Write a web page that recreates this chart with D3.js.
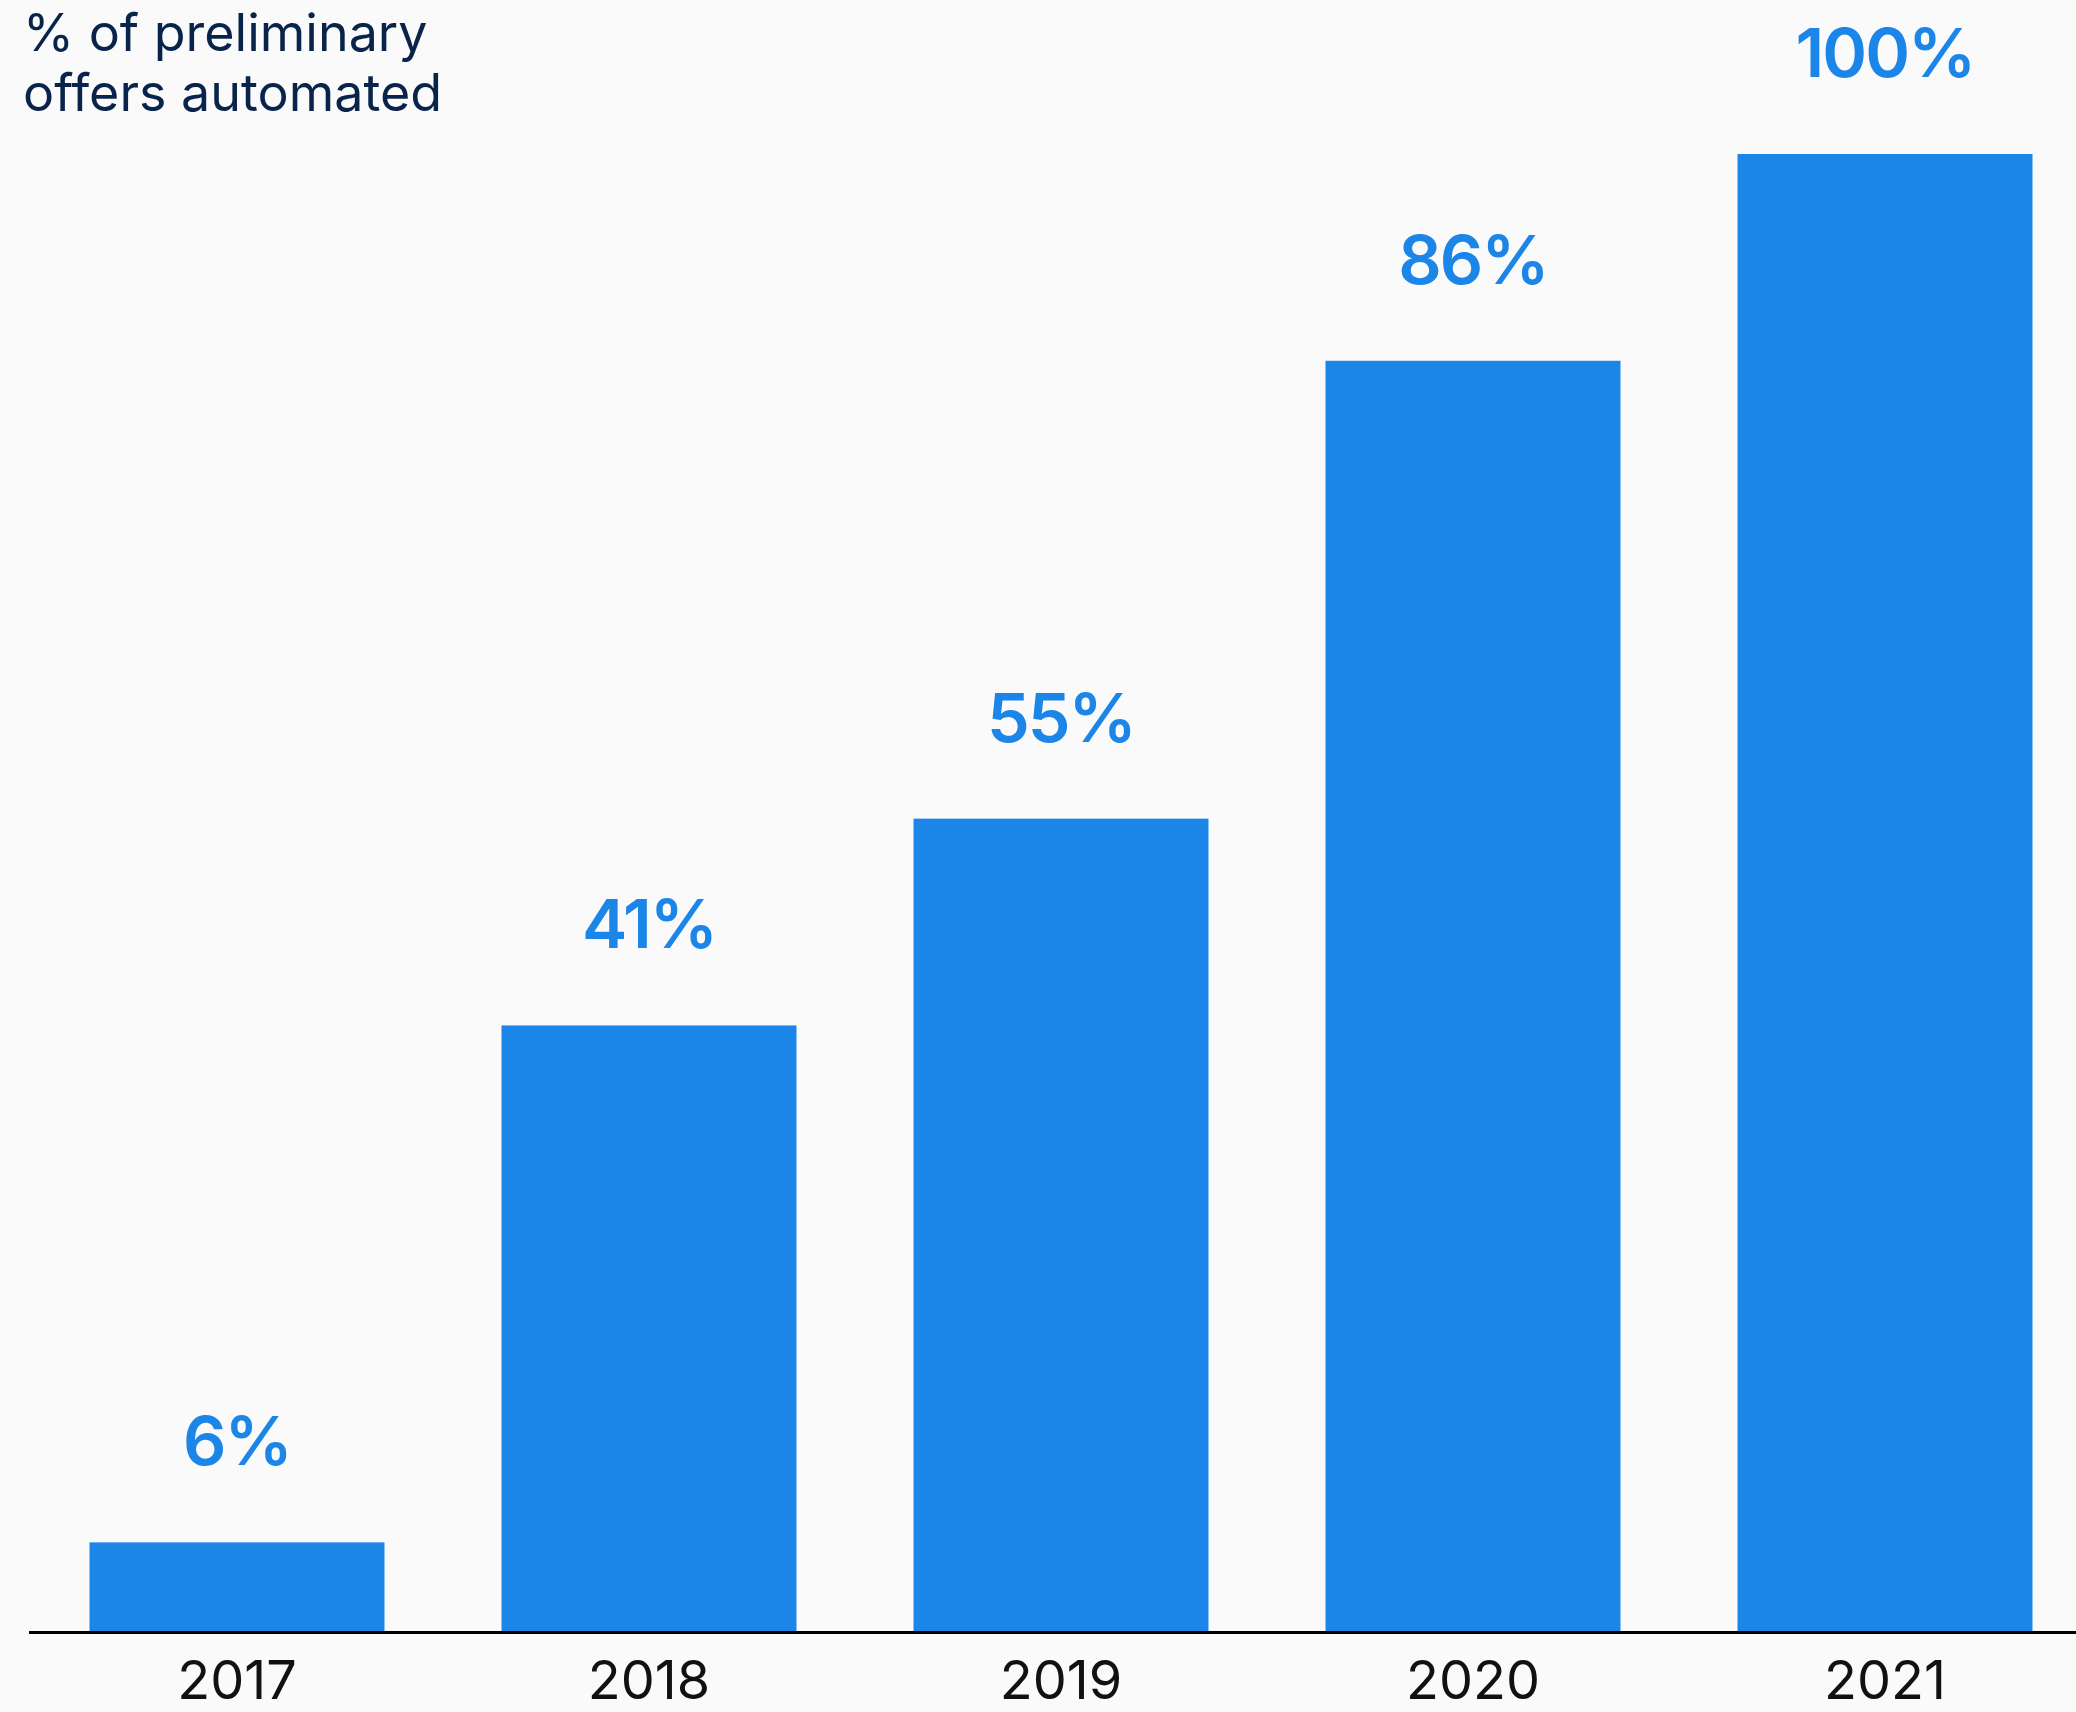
<!DOCTYPE html>
<html>
<head>
<meta charset="utf-8">
<script src="https://cdn.jsdelivr.net/npm/d3@7"></script>
<style>
  html, body { margin: 0; padding: 0; background: #fafafa; }
  svg { display: block; }
</style>
</head>
<body>
<svg id="chart" width="2076" height="1712"></svg>
<script>
// Share of preliminary offers that were automated, by year
const years = ["2017", "2018", "2019", "2020", "2021"];
const automatedPct = [6, 41, 55, 86, 100];
const titleLines = ["% of preliminary", "offers automated"];

const W = 2076, H = 1712;
const baseY = 1631;
const svg = d3.select("#chart");

svg.append("rect").attr("width", W).attr("height", H).attr("fill", "#fafafa");

const x = d3.scaleBand()
  .domain(years)
  .range([31, 2091])
  .paddingInner(0.284)
  .paddingOuter(0.142);

const y = d3.scaleLinear()
  .domain([0, 100])
  .range([baseY, 154]);

const data = years.map((yr, i) => ({ year: yr, value: automatedPct[i] }));

// Bars
svg.append("g")
  .selectAll("rect")
  .data(data)
  .join("rect")
  .attr("x", d => x(d.year))
  .attr("y", d => y(d.value))
  .attr("width", x.bandwidth())
  .attr("height", d => baseY - y(d.value))
  .attr("fill", "#1c86e8");

// Value labels above bars
svg.append("g")
  .selectAll("text")
  .data(data)
  .join("text")
  .attr("x", d => x(d.year) + x.bandwidth() / 2)
  .attr("y", d => y(d.value) - 77)
  .attr("text-anchor", "middle")
  .attr("font-family", "Inter, 'Open Sans', sans-serif")
  .attr("font-weight", 600)
  .attr("font-size", 68)
  .attr("letter-spacing", "-2")
  .attr("fill", "#1c86e8")
  .text(d => d.value + "%");

// Baseline
svg.append("line")
  .attr("x1", 29).attr("x2", W)
  .attr("y1", baseY + 1.5).attr("y2", baseY + 1.5)
  .attr("stroke", "#000")
  .attr("stroke-width", 3);

// Year labels
const xAxis = svg.append("g")
  .attr("transform", `translate(0,${baseY})`)
  .call(d3.axisBottom(x).tickSize(0).tickPadding(0));
xAxis.select(".domain").remove();
xAxis.selectAll("text")
  .attr("y", 68)
  .attr("dy", 0)
  .attr("font-family", "Inter, 'Open Sans', sans-serif")
  .attr("font-size", 54)
  .attr("font-weight", 400)
  .attr("fill", "#111");

// Axis title, top left
svg.append("text")
  .attr("x", 23)
  .attr("font-family", "Inter, 'Open Sans', sans-serif")
  .attr("font-size", 52)
  .attr("fill", "#08244a")
  .selectAll("tspan")
  .data(titleLines)
  .join("tspan")
  .attr("x", 23)
  .attr("y", (d, i) => 51 + i * 60)
  .text(d => d);
</script>
</body>
</html>
